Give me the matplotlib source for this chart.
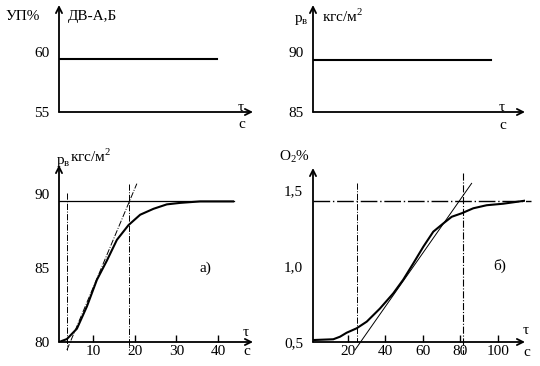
import matplotlib
matplotlib.use("Agg")
import matplotlib.pyplot as plt

plt.rcParams['font.family'] = ['Liberation Serif', 'DejaVu Serif']
plt.rcParams['font.size'] = 11

W, H = 540, 366

# top panels: constant signals
t_top_a = [1.8, 39.7]
up_top = [59.4, 59.4]
t_top_b = [1.6, 96.3]
p_top = [89.33, 89.33]

# panel a): pressure response
t_a = [1.8, 3.7, 6.1, 8.5, 10.9, 13.3, 15.7, 18.5, 21.3, 24.5, 27.7, 30.9, 35.7, 43.6]
p_a = [80.0, 80.2, 80.9, 82.4, 84.2, 85.5, 86.9, 87.9, 88.6, 89.0, 89.3, 89.4, 89.5, 89.5]
p_a_steady = 89.5
tan_a_t = [3.7, 20.5]
tan_a_p = [79.46, 90.7]
vlines_a = [3.7, 18.5]
xticks_a = [10, 20, 30, 40]

# panel б): O2 response
t_b = [1.8, 12.4, 16.0, 19.5, 24.8, 30.2, 37.2, 44.3, 49.6, 55.0, 60.3, 65.6,
       70.9, 75.4, 80.7, 86.9, 94.0, 102.8, 114.4]
o2_b = [0.513, 0.518, 0.535, 0.561, 0.59, 0.634, 0.72, 0.82, 0.91, 1.018, 1.127,
        1.226, 1.28, 1.324, 1.347, 1.38, 1.40, 1.41, 1.43]
o2_steady = 1.43
tan_b_t = [23.9, 86.0]
tan_b_o2 = [0.447, 1.544]
vlines_b = [24.8, 81.2]
xticks_b = [20, 40, 60, 80, 100]


def rect(x0, y0, x1, y1):
    return [x0 / W, 1 - y1 / H, (x1 - x0) / W, (y1 - y0) / H]


def setup(ax):
    for s in ax.spines.values():
        s.set_visible(False)
    ax.annotate('', xy=(1, 0), xytext=(0, 0), xycoords='axes fraction',
                arrowprops=dict(arrowstyle='->', lw=1.3, color='black',
                                shrinkA=0, shrinkB=0), annotation_clip=False)
    ax.annotate('', xy=(0, 1), xytext=(0, 0), xycoords='axes fraction',
                arrowprops=dict(arrowstyle='->', lw=1.3, color='black',
                                shrinkA=0, shrinkB=0), annotation_clip=False)
    ax.tick_params(axis='y', length=0, pad=7)
    ax.tick_params(axis='x', direction='in', length=5, width=1, pad=2)
    ax.patch.set_alpha(0)


fig = plt.figure(figsize=(W / 100, H / 100), dpi=100)

# top-left
ax1 = fig.add_axes(rect(59, 5, 253, 112))
setup(ax1)
ax1.set_xlim(1.8, 48.4)
ax1.set_ylim(55, 63.9)
ax1.set_yticks([55, 60])
ax1.set_xticks([])
ax1.plot(t_top_a, up_top, color='black', lw=1.5)
fig.text(5 / W, 1 - 20 / H, 'УП%')
fig.text(68 / W, 1 - 20 / H, 'ДВ-А,Б')
fig.text(238 / W, 1 - 111 / H, 'τ')
fig.text(238 / W, 1 - 128 / H, 'с')

# top-right
ax2 = fig.add_axes(rect(313, 5, 525, 112))
setup(ax2)
ax2.set_xlim(1.6, 114.4)
ax2.set_ylim(85, 93.9)
ax2.set_yticks([85, 90])
ax2.set_xticks([])
ax2.plot(t_top_b, p_top, color='black', lw=1.5)
fig.text(294 / W, 1 - 22 / H, 'p$_\\mathregular{в}$')
fig.text(322 / W, 1 - 22 / H, 'кгс/м$^\\mathregular{2}$')
fig.text(499 / W, 1 - 111 / H, 'τ')
fig.text(499 / W, 1 - 129 / H, 'с')

# bottom-left, panel a)
ax3 = fig.add_axes(rect(59, 165, 253, 342))
setup(ax3)
ax3.set_xlim(1.8, 48.4)
ax3.set_ylim(80, 91.96)
ax3.set_yticks([80, 85, 90])
ax3.set_xticks(xticks_a)
ax3.plot(t_a, p_a, color='black', lw=1.5)
ax3.plot([1.8, 43.8], [p_a_steady, p_a_steady], color='black', lw=0.9)
ax3.plot(tan_a_t, tan_a_p, color='black', lw=0.7, ls='-.', clip_on=False)
ax3.plot([vlines_a[0]] * 2, [90.05, 79.46], color='black', lw=0.7, ls='-.', clip_on=False)
ax3.plot([vlines_a[1]] * 2, [90.7, 79.46], color='black', lw=0.7, ls='-.', clip_on=False)
ax3.text(37, 85, 'а)', ha='center', va='center')
fig.text(56 / W, 1 - 164 / H, 'p$_\\mathregular{в}$')
fig.text(70 / W, 1 - 162 / H, 'кгс/м$^\\mathregular{2}$')
fig.text(243 / W, 1 - 336 / H, 'τ')
fig.text(243 / W, 1 - 355 / H, 'с')

# bottom-right, panel б)
ax4 = fig.add_axes(rect(313, 168, 525, 342))
setup(ax4)
ax4.set_xlim(1.6, 114.4)
ax4.set_ylim(0.5, 1.645)
ax4.set_yticks([0.5, 1.0, 1.5])
ax4.set_yticklabels(['0,5', '1,0', '1,5'])
ax4.set_xticks(xticks_b)
ax4.plot(t_b, o2_b, color='black', lw=1.5)
ax4.plot([1.6, 117.5], [o2_steady, o2_steady], color='black', lw=1.0,
         ls=(0, (12, 2, 1, 2)), clip_on=False)
ax4.plot(tan_b_t, tan_b_o2, color='black', lw=0.7, clip_on=False)
ax4.plot([vlines_b[0]] * 2, [1.545, 0.5], color='black', lw=0.7, ls='-.', clip_on=False)
ax4.plot([vlines_b[1]] * 2, [1.61, 0.42], color='black', lw=0.8, ls='-.', clip_on=False)
ax4.text(101, 1.0, 'б)', ha='center', va='center')
fig.text(279 / W, 1 - 160 / H, 'O$_\\mathregular{2}$%')
fig.text(523 / W, 1 - 334 / H, 'τ')
fig.text(523 / W, 1 - 356 / H, 'с')

fig.savefig('out.png', dpi=100)
